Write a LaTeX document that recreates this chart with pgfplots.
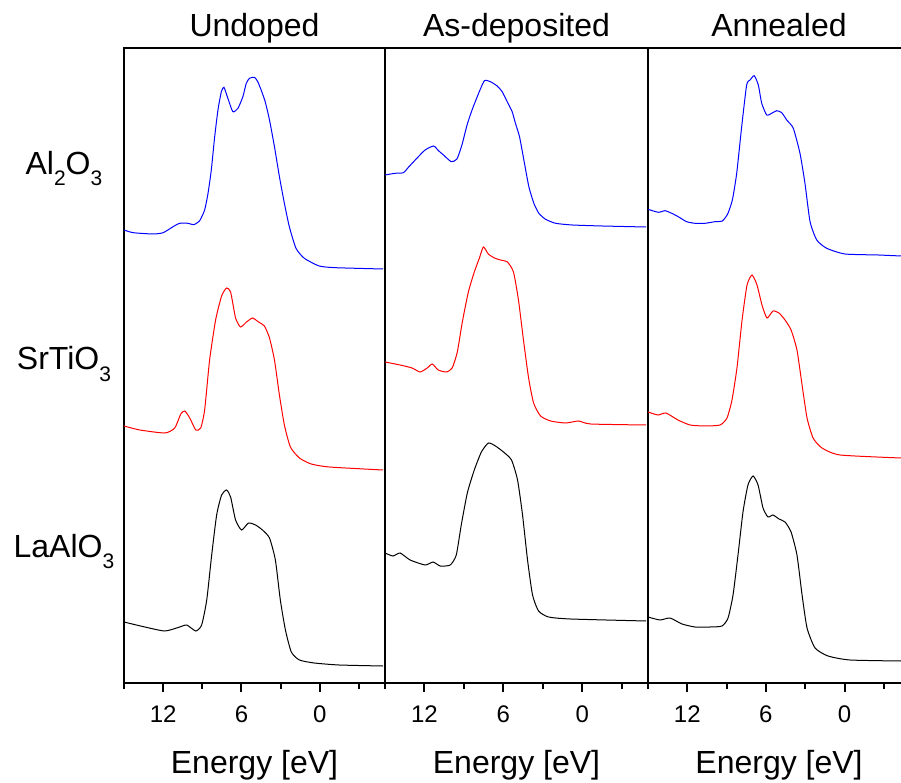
\documentclass[border=0pt]{standalone}
\usepackage{pgfplots}
\pgfplotsset{compat=1.18}
\usepackage{fontspec}
\setmainfont{Liberation Sans}

% chemical-formula subscript, set well below the baseline
\newcommand{\sub}[1]{\raisebox{-5.5pt}{\fontsize{10.5pt}{10.5pt}\selectfont #1}}
\newcommand{\labelfont}{\fontsize{16pt}{19pt}\selectfont}

\definecolor{specblue}{RGB}{0,0,255}
\definecolor{specred}{RGB}{255,0,0}

\pgfplotsset{
  panel/.style={
    scale only axis,
    height=317.5pt,
    ymin=0, ymax=635,
    xmin=-5, xmax=15,
    x dir=reverse,
    clip=false,
    xtick={12,6,0},
    minor xtick={15,9,3,-3},
    ytick=\empty,
    xtick pos=left,
    tick align=outside,
    major tick length=4.5pt,
    minor tick length=3pt,
    every tick/.style={black, line width=1pt},
    axis line style={line width=1pt},
    xticklabel style={font=\fontsize{12pt}{14pt}\selectfont, yshift=-3.5pt},
    /pgf/number format/assume math mode=true,
    every axis plot/.append style={no markers, line width=0.5pt, smooth, tension=0.35},
  },
}

\begin{document}
\begin{tikzpicture}
\path[use as bounding box] (0,0) rectangle (450.5pt,391.5pt);

% ---------------- Undoped ----------------
\begin{axis}[panel, width=130.5pt, at={(62pt,50pt)}, anchor=south west]
\addplot[specblue] coordinates {
(15.00,453) (14.29,450.3) (12.76,449) (12.00,450.3) (11.24,456.3) (10.73,459.7)
(10.09,459.7) (9.66,458.3) (9.20,462.3) (8.82,473) (8.56,489.7) (8.31,513)
(8.05,546.3) (7.80,573) (7.54,591.3) (7.34,595.7) (7.04,584.7) (6.66,571.3)
(6.27,574.7) (5.89,586.3) (5.63,599.7) (5.38,604.7) (5.00,605.7) (4.75,601.3)
(4.49,593) (4.18,581.3) (3.85,563) (3.47,536.3) (3.09,506.3) (2.71,479.7)
(2.33,456.3) (1.82,434.7) (1.18,424.7) (0.04,417) (-1.24,415.3) (-4.85,414)
};
\addplot[specred] coordinates {
(15.00,257) (13.78,253) (11.87,250) (11.11,255) (10.65,269) (10.34,272)
(9.96,265) (9.50,253) (9.12,255) (8.82,273) (8.44,323) (7.98,363)
(7.52,387) (7.14,395) (6.83,391) (6.45,365) (6.07,356) (5.61,361)
(5.15,365) (4.69,361) (4.24,357) (3.85,345) (3.47,323) (3.09,288)
(2.71,258) (2.25,236) (1.56,225) (0.65,219) (-0.73,216) (-4.85,213)
};
\addplot[black] coordinates {
(15.00,61) (13.40,56) (11.87,52) (10.73,56) (10.19,58) (9.50,52)
(9.05,58) (8.66,83) (8.28,128) (7.90,168) (7.52,188) (7.14,193)
(6.83,186) (6.45,163) (5.99,153) (5.46,160) (4.92,158) (4.39,153)
(3.85,145) (3.40,123) (3.02,83) (2.63,53) (2.18,31) (1.56,23)
(0.42,20) (-1.49,18) (-4.85,17)
};
\node[anchor=base, font=\labelfont] at (axis cs:5,646) {Undoped};
\node[anchor=base, font=\labelfont] at (axis cs:5,-90) {Energy [eV]};
\node[anchor=base, font=\labelfont] at (axis cs:19.6,508) {Al\sub{2}O\sub{3}};
\node[anchor=base, font=\labelfont] at (axis cs:19.6,313) {SrTiO\sub{3}};
\node[anchor=base, font=\labelfont] at (axis cs:19.6,126) {LaAlO\sub{3}};
\end{axis}

% ---------------- As-deposited ----------------
\begin{axis}[panel, width=131.5pt, at={(192.5pt,50pt)}, anchor=south west]
\addplot[specblue] coordinates {
(15.00,508) (14.24,509.7) (13.60,510.3) (13.22,515.7) (12.58,524.7) (11.95,533)
(11.31,537) (10.93,532.3) (10.55,528) (9.96,521.3) (9.53,524) (9.15,538)
(8.76,558) (8.38,573) (7.88,589.7) (7.44,602.3) (6.98,601.3) (6.47,597)
(6.09,591.3) (5.71,581.3) (5.33,571.3) (5.08,559.7) (4.77,546.3) (4.44,523)
(4.06,496.3) (3.68,479.7) (3.30,469.7) (2.79,463.7) (2.02,459.7) (0.75,458)
(-1.53,457) (-4.85,456)
};
\addplot[specred] coordinates {
(15.00,321) (13.85,318) (12.94,315) (12.33,311) (11.79,315) (11.41,319)
(10.95,313) (10.34,311) (9.89,315) (9.50,331) (9.12,361) (8.66,391)
(8.21,411) (7.82,425) (7.52,436) (7.14,429) (6.68,425) (6.22,423)
(5.69,421) (5.23,411) (4.85,383) (4.47,343) (4.08,305) (3.70,280)
(3.17,267) (2.40,262) (1.26,260) (0.27,262) (-0.65,259) (-4.85,258)
};
\addplot[black] coordinates {
(15.00,130) (14.39,127) (13.85,130) (13.09,123) (11.95,118) (11.34,121)
(10.80,117) (10.04,118) (9.58,128) (9.20,158) (8.74,190) (8.21,213)
(7.67,231) (7.14,240) (6.60,237) (5.99,231) (5.38,223) (4.92,203)
(4.54,168) (4.16,123) (3.78,88) (3.32,72) (2.56,66) (0.88,64) (-4.85,62)
};
\node[anchor=base, font=\labelfont] at (axis cs:5,646) {As-deposited};
\node[anchor=base, font=\labelfont] at (axis cs:5,-90) {Energy [eV]};
\end{axis}

% ---------------- Annealed ----------------
\begin{axis}[panel, width=126.5pt, xmin=-4.31, at={(324pt,50pt)}, anchor=south west,
  axis x line*=box, axis y line*=left, xtick pos=left]
\addplot[specblue] coordinates {
(15.00,473.7) (14.21,470.7) (13.70,472.3) (13.19,469.7) (12.69,466.3) (12.05,461.3)
(11.41,459.7) (10.65,459.7) (9.89,461.3) (9.33,462) (8.92,469) (8.56,483)
(8.23,509.7) (7.85,556.3) (7.47,598) (7.21,603) (6.89,607.3) (6.58,598)
(6.32,579.7) (5.94,568) (5.56,569.7) (5.18,572.3) (4.79,570.3) (4.41,563)
(3.91,554.7) (3.40,529.7) (3.02,499.7) (2.63,461.3) (2.12,443) (1.36,434.7)
(-0.04,429) (-2.58,428) (-4.31,427)
};
\addplot[specred] coordinates {
(15.00,271) (14.24,268) (13.63,270) (12.71,263) (11.79,258) (10.65,257)
(9.50,258) (8.97,265) (8.59,283) (8.21,315) (7.82,363) (7.44,398)
(7.06,408) (6.68,398) (6.30,378) (5.92,365) (5.46,372) (5.00,370)
(4.54,363) (4.08,353) (3.63,333) (3.24,298) (2.86,265) (2.40,245)
(1.72,235) (0.34,228) (-4.31,225)
};
\addplot[black] coordinates {
(15.00,66) (14.08,63) (13.32,65) (12.40,59) (11.41,56) (10.27,56)
(9.35,57) (8.89,65) (8.51,88) (8.13,128) (7.75,171) (7.37,198)
(6.98,207) (6.60,198) (6.22,175) (5.84,166) (5.46,168) (5.00,164)
(4.54,161) (4.08,151) (3.63,128) (3.24,88) (2.86,55) (2.25,35)
(1.26,27) (-0.42,23) (-4.31,22)
};
\node[anchor=base, font=\labelfont] at (axis cs:5,646) {Annealed};
\node[anchor=base, font=\labelfont] at (axis cs:5,-90) {Energy [eV]};
\end{axis}
\end{tikzpicture}
\end{document}
